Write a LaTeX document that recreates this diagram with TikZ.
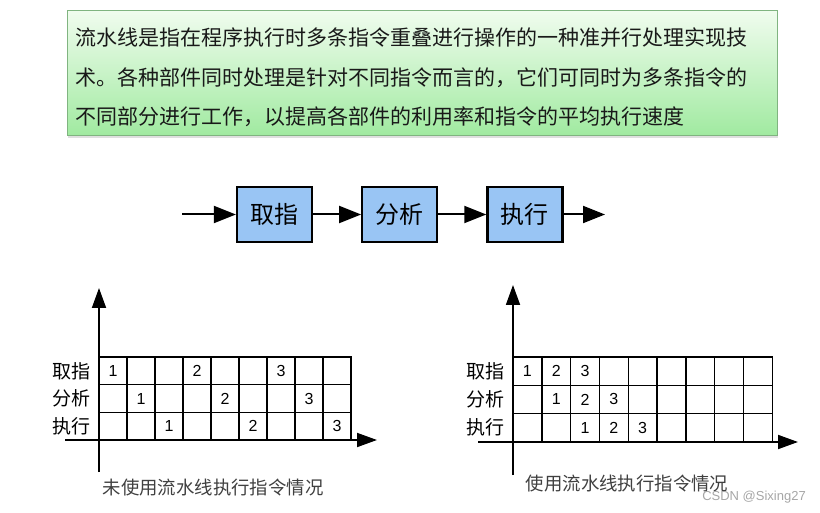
\documentclass[tikz,border=0pt]{standalone}
\usepackage{fontspec}
\newfontfamily\cjk{Noto Sans CJK SC}
\newfontfamily\numfont{Liberation Sans}
\usetikzlibrary{arrows.meta,positioning,shadows}
\definecolor{introtop}{RGB}{240,252,238}
\definecolor{introbot}{RGB}{160,234,160}
\definecolor{introedge}{RGB}{128,180,128}
\definecolor{stageblue}{RGB}{153,197,244}

\begin{document}
\begin{tikzpicture}[x=1pt,y=-1pt,>={Triangle[length=20pt,width=14pt]},auto,node distance=48pt,
  line width=1.8pt,
  intro box/.style={rectangle,draw=introedge,line width=1pt,top color=introtop,bottom color=introbot,
    minimum width=710pt,minimum height=125pt,drop shadow={opacity=0.25,shadow xshift=1pt,shadow yshift=-2pt}},
  intro line/.style={anchor=base west,inner sep=0pt,text=black!90,font=\cjk\fontsize{21}{21}\selectfont},
  stage node/.style={rectangle,draw,line width=2.2pt,fill=stageblue,minimum width=75pt,minimum height=55pt,
    font=\cjk\fontsize{24}{24}\selectfont},
  stage arrow/.style={-{Triangle[length=22pt,width=17pt]},line width=2pt},
  cell node/.style={rectangle,draw,line width=1.4pt,inner sep=0pt,font=\numfont\fontsize{16}{16}\selectfont},
  row label/.style={inner sep=0pt,font=\cjk\fontsize{19}{19}\selectfont},
  chart caption/.style={inner sep=0pt,text=black!75,font=\cjk\fontsize{18.4}{18.4}\selectfont},
  watermark/.style={inner sep=0pt,text=black!35,font=\numfont\fontsize{13}{13}\selectfont}]
    \useasboundingbox (0,0) rectangle (820,513);

    % definition box
    \node[intro box](intro) at (422,73.5) {};
    \node[intro line](line1) at (75,46) {流水线是指在程序执行时多条指令重叠进行操作的一种准并行处理实现技};
    \node[intro line](line2) at (75,86) {术。各种部件同时处理是针对不同指令而言的，它们可同时为多条指令的};
    \node[intro line](line3) at (75,125) {不同部分进行工作，以提高各部件的利用率和指令的平均执行速度};

    % pipeline stages
    \node[stage node](fetch) at (274.5,214.5) {取指};
    \node[stage node,right=of fetch](decode) {分析};
    \node[stage node,right=of decode](exec) {执行};
    \coordinate (in) at (182,214.5);
    \coordinate (out) at (605,214.5);
    \path[stage arrow] (in) edge (fetch)
          (fetch) edge (decode)
          (decode) edge (exec)
          (exec) edge (out)
    ;

    % without pipeline
    \foreach \r in {1,2,3}
      \foreach \c in {1,...,9}{
        \pgfmathtruncatemacro\k{\c-\r}
        \pgfmathtruncatemacro\n{(mod(\k+9,3)==0 && \k>=0) ? \k/3+1 : 0}
        \node[cell node,minimum width=28pt,minimum height=27.7pt](L\r\c)
          at ({99+28*(\c-0.5)},{357+27.7*(\r-0.5)}) {\ifnum\n>0 \n\fi};
      }
    \node[row label,left=7pt of L11]{取指};
    \node[row label,left=7pt of L21]{分析};
    \node[row label,left=7pt of L31]{执行};
    \coordinate (Lyb) at (99,472);
    \coordinate (Lyt) at (99,288);
    \coordinate (Lxl) at (65,440);
    \coordinate (Lxr) at (377,440);
    \draw[->] (Lyb) -- (Lyt);
    \draw[->] (Lxl) -- (Lxr);
    \node[chart caption](Lcap) at (213,488) {未使用流水线执行指令情况};

    % with pipeline
    \foreach \r in {1,2,3}
      \foreach \c in {1,...,9}{
        \pgfmathtruncatemacro\k{\c-\r}
        \pgfmathtruncatemacro\n{(\k>=0 && \k<=2) ? \k+1 : 0}
        \node[cell node,minimum width=28.8pt,minimum height=28.3pt](R\r\c)
          at ({513+28.8*(\c-0.5)},{357+28.3*(\r-0.5)}) {\ifnum\n>0 \n\fi};
      }
    \node[row label,left=7pt of R11]{取指};
    \node[row label,left=7pt of R21]{分析};
    \node[row label,left=7pt of R31]{执行};
    \coordinate (Ryb) at (513,475);
    \coordinate (Ryt) at (513,285);
    \coordinate (Rxl) at (478,442);
    \coordinate (Rxr) at (798,442);
    \draw[->] (Ryb) -- (Ryt);
    \draw[->] (Rxl) -- (Rxr);
    \node[chart caption](Rcap) at (627,484) {使用流水线执行指令情况};

    \node[watermark](mark) at (754,497) {CSDN @Sixing27};

\end{tikzpicture}
\end{document}
